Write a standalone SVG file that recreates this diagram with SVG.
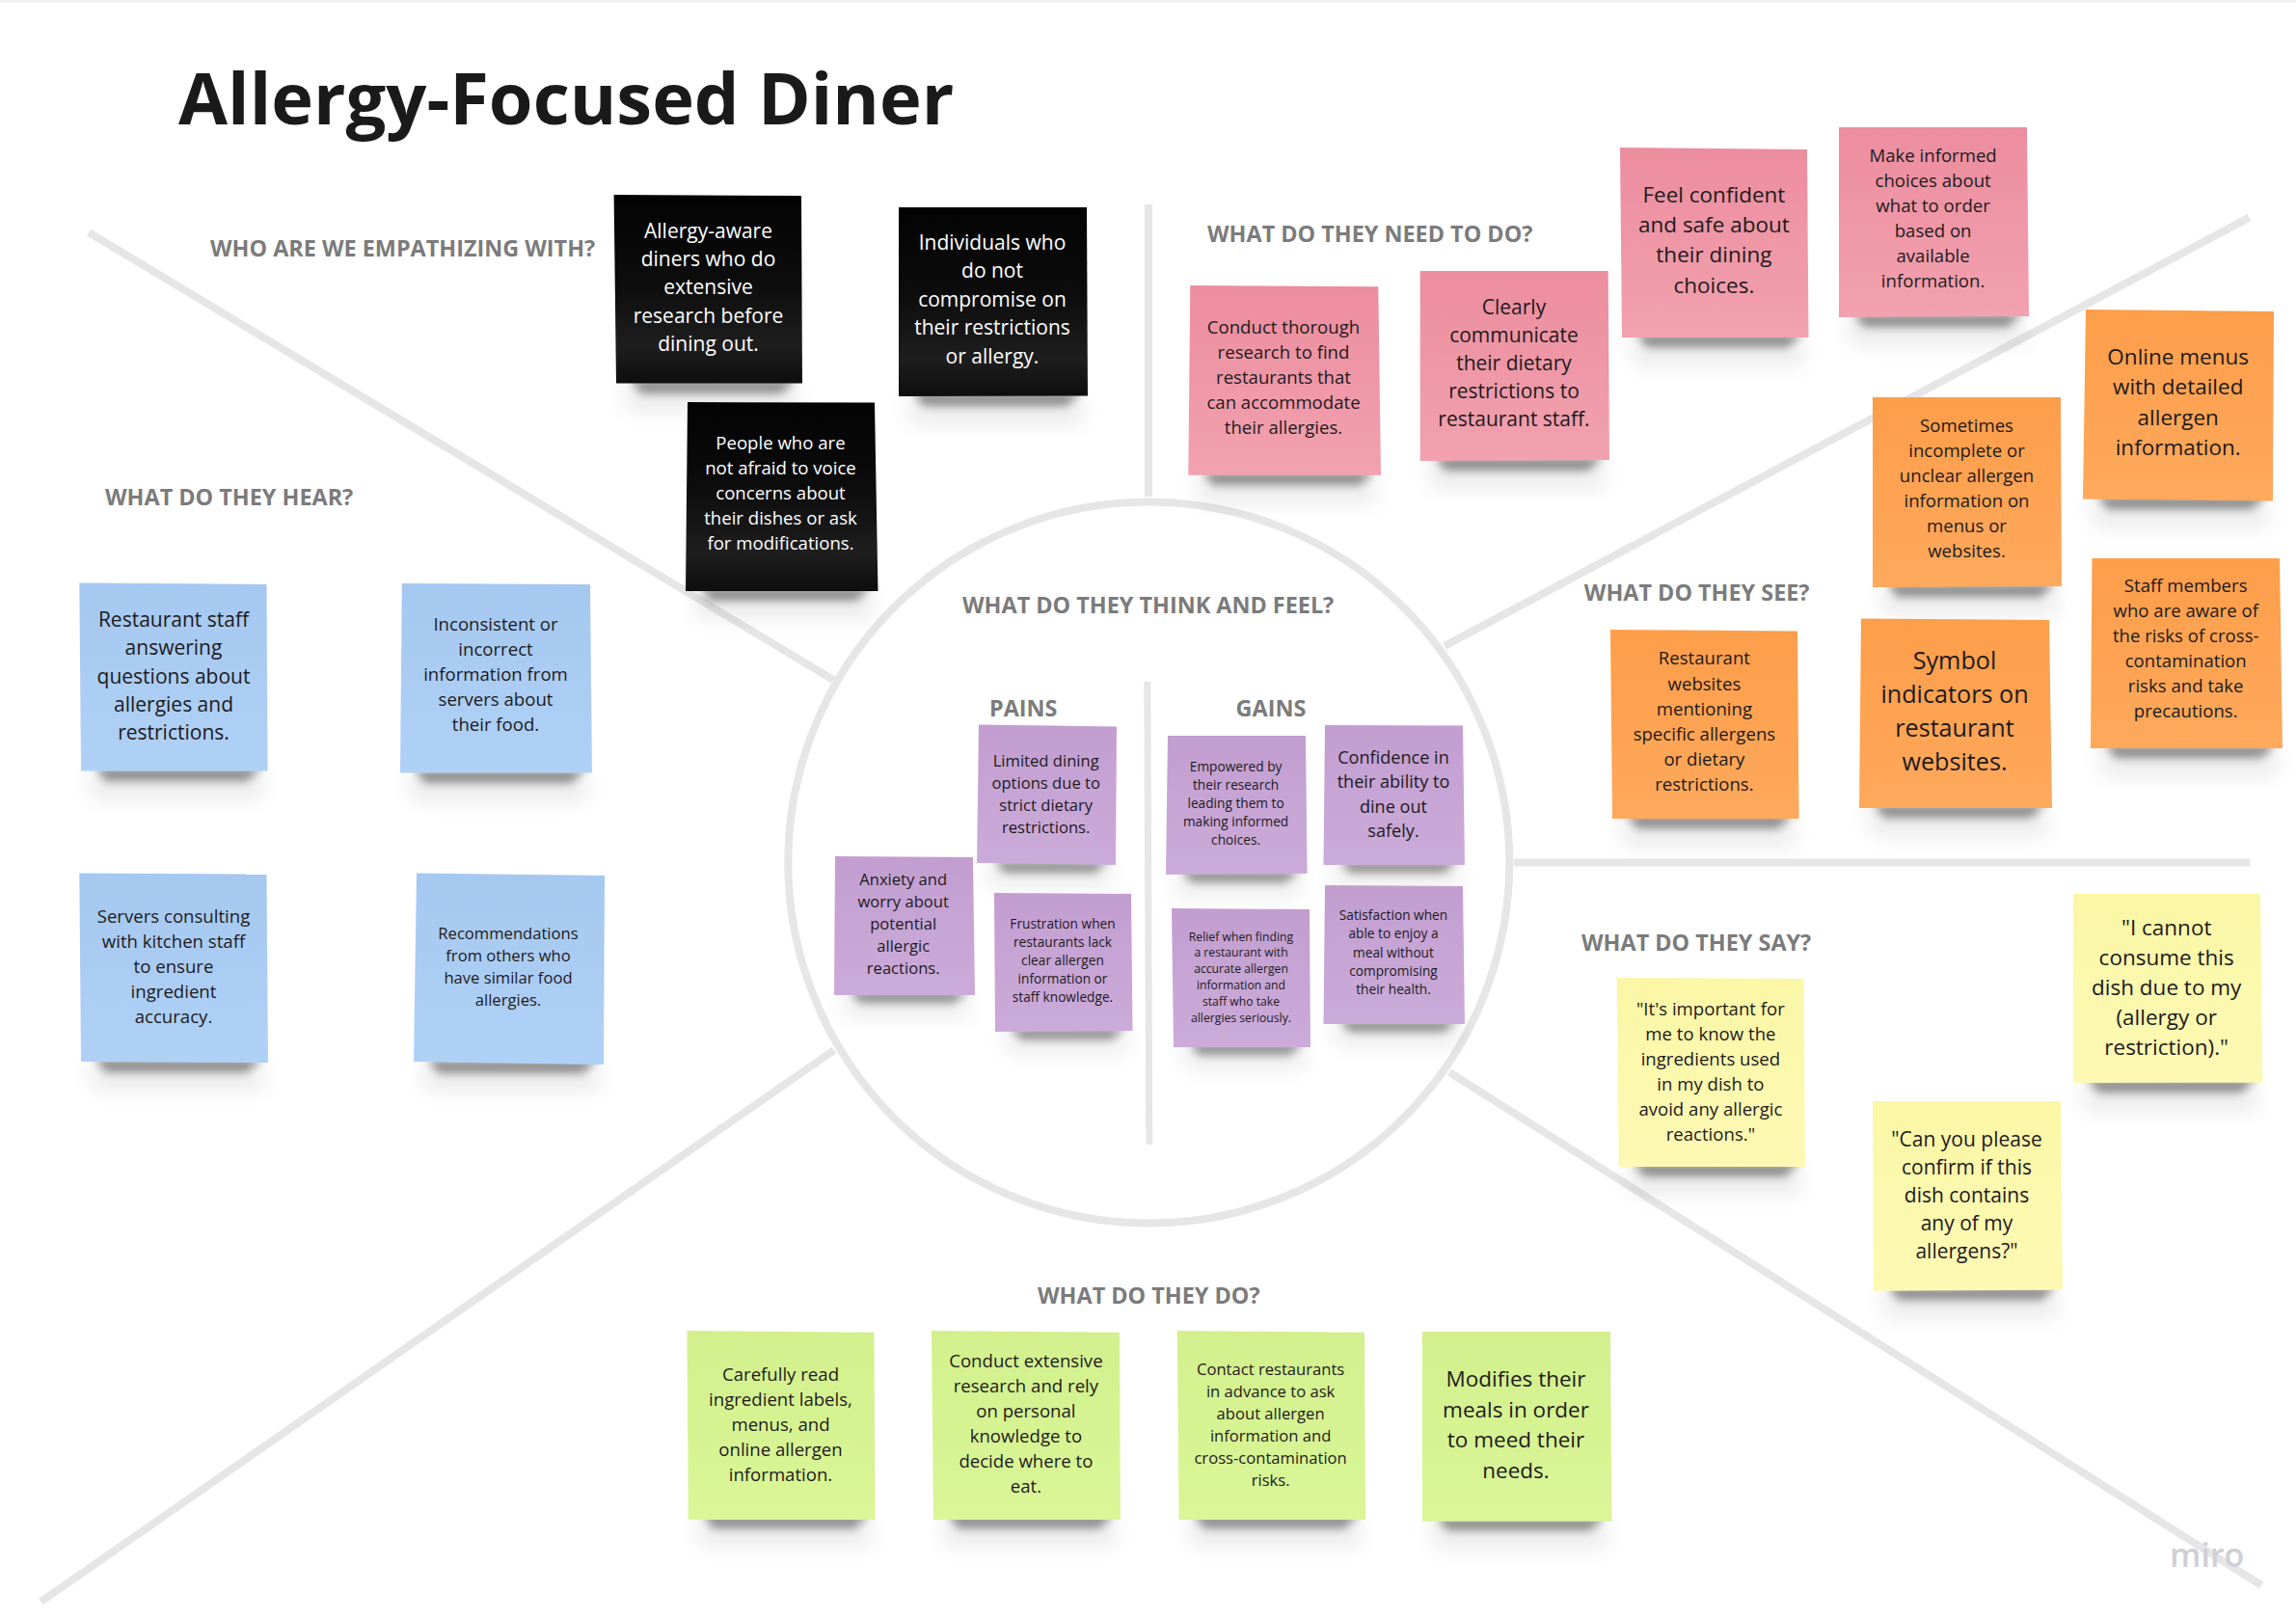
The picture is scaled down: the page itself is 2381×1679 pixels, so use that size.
<svg xmlns="http://www.w3.org/2000/svg" width="2381" height="1679" viewBox="0 0 2381 1679">
<style>
text{font-family:"Open Sans","Noto Sans","Liberation Sans",sans-serif;text-anchor:middle;fill:#1d1a1c}
.h{font-weight:700;font-size:23.4px;fill:#7b7b7b;text-anchor:start}
.title{font-weight:700;font-size:74px;fill:#1a1a1a;text-anchor:start}
.w{fill:#fff}
.s1{fill:#000;opacity:.42;filter:url(#b1)}
.s2{fill:#000;opacity:.07;filter:url(#b2)}
.l{stroke:#e6e6e6;stroke-width:8;fill:none}
.k{fill:url(#gk)}.b{fill:url(#gb)}.p{fill:url(#gp)}.o{fill:url(#go)}.u{fill:url(#gu)}.y{fill:url(#gy)}.g{fill:url(#gg)}
.f12{font-size:12.2px}.f14{font-size:13.7px}.f17{font-size:16.6px}.f187{font-size:18.1px}.f19{font-size:18.6px}.f21{font-size:21px}.f23{font-size:22.5px}.f26{font-size:25.2px}
.miro{font-size:34px;font-weight:600;fill:#cfcfd6;text-anchor:start}
</style>
<defs>
<filter id="b1" x="-20%" y="-200%" width="140%" height="500%"><feGaussianBlur stdDeviation="5"/></filter>
<filter id="b2" x="-20%" y="-100%" width="140%" height="300%"><feGaussianBlur stdDeviation="10"/></filter>
<linearGradient id="gk" x1="0" y1="0" x2="0" y2="1"><stop offset="0" stop-color="#030303"/><stop offset=".45" stop-color="#0c0c0c"/><stop offset=".8" stop-color="#1e1e1e"/><stop offset="1" stop-color="#0e0e0e"/></linearGradient>
<linearGradient id="gb" x1="0" y1="0" x2="0" y2="1"><stop offset="0" stop-color="#a5c8f0"/><stop offset="1" stop-color="#b0d1f6"/></linearGradient>
<linearGradient id="gp" x1="0" y1="0" x2="0" y2="1"><stop offset="0" stop-color="#ec8d9e"/><stop offset="1" stop-color="#f2a1af"/></linearGradient>
<linearGradient id="go" x1="0" y1="0" x2="0" y2="1"><stop offset="0" stop-color="#fd9e4a"/><stop offset="1" stop-color="#fea95c"/></linearGradient>
<linearGradient id="gu" x1="0" y1="0" x2="0" y2="1"><stop offset="0" stop-color="#c29ed0"/><stop offset="1" stop-color="#cbabda"/></linearGradient>
<linearGradient id="gy" x1="0" y1="0" x2="0" y2="1"><stop offset="0" stop-color="#fbf7a6"/><stop offset="1" stop-color="#fdf9b4"/></linearGradient>
<linearGradient id="gg" x1="0" y1="0" x2="0" y2="1"><stop offset="0" stop-color="#d2f08d"/><stop offset="1" stop-color="#daf697"/></linearGradient>
</defs>
<rect width="2381" height="1679" fill="#fff"/>
<rect width="2381" height="2.500" fill="#efefef"/>
<g id="connectors">
<circle class="l" cx="1191.300" cy="894.600" r="374"/>
<path class="l" d="M92 241L864 705"/>
<path class="l" d="M1191 212V515"/>
<path class="l" d="M2332.500 225.600L1498 670"/>
<path class="l" d="M1570 894.400H2333.400"/>
<path class="l" d="M1503 1112L2345 1644"/>
<path class="l" d="M865 1089L42.500 1661"/>
<path class="l" style="stroke-width:7" d="M1189.800 707L1191.800 1187"/>
</g>
<text class="title" x="185" y="128.500">Allergy-Focused Diner</text>
<g id="headings">
<text class="h" x="218" y="266">WHO ARE WE EMPATHIZING WITH?</text>
<text class="h" x="109" y="523.500">WHAT DO THEY HEAR?</text>
<text class="h" x="998" y="635.700">WHAT DO THEY THINK AND FEEL?</text>
<text class="h" x="1026" y="742.500">PAINS</text>
<text class="h" x="1281.600" y="742.500">GAINS</text>
<text class="h" x="1252" y="250.700">WHAT DO THEY NEED TO DO?</text>
<text class="h" x="1642.800" y="623">WHAT DO THEY SEE?</text>
<text class="h" x="1640" y="985.500">WHAT DO THEY SAY?</text>
<text class="h" x="1076" y="1351.500">WHAT DO THEY DO?</text>
</g>

<g id="who-1"><path class="s2" d="M643 398H828V428H651Z"/><path class="s1" d="M653 394H826L810 408H665Z"/><polygon class="k" points="636.600,202 831,203 832,397.500 639,397.500"/>
<text class="f21 w" y="246.500"><tspan x="734.500">Allergy-aware</tspan><tspan x="734.500" dy="29.400">diners who do</tspan><tspan x="734.500" dy="29.400">extensive</tspan><tspan x="734.500" dy="29.400">research before</tspan><tspan x="734.500" dy="29.400">dining out.</tspan></text></g>
<g id="who-2"><path class="s2" d="M936 411H1124V441H944Z"/><path class="s1" d="M946 407H1122L1106 421H958Z"/><polygon class="k" points="932,215 1127,215 1128,410.600 932,411"/>
<text class="f21 w" y="259"><tspan x="1029">Individuals who</tspan><tspan x="1029" dy="29.400">do not</tspan><tspan x="1029" dy="29.400">compromise on</tspan><tspan x="1029" dy="29.400">their restrictions</tspan><tspan x="1029" dy="29.400">or allergy.</tspan></text></g>
<g id="who-3"><path class="s2" d="M715 613H906V643H723Z"/><path class="s1" d="M725 609H904L888 623H737Z"/><polygon class="k" points="713,417 907,417.500 910.500,613 711,613"/>
<text class="f19 w" y="466"><tspan x="809.500">People who are</tspan><tspan x="809.500" dy="26">not afraid to voice</tspan><tspan x="809.500" dy="26">concerns about</tspan><tspan x="809.500" dy="26">their dishes or ask</tspan><tspan x="809.500" dy="26">for modifications.</tspan></text></g>

<g id="hear-1"><path class="s2" d="M88 800H274V830H96Z"/><path class="s1" d="M98 796H272L256 810H110Z"/><polygon class="b" points="82.300,604.600 276.500,606 277.600,799.500 84,799.500"/>
<text class="f21" y="650"><tspan x="180">Restaurant staff</tspan><tspan x="180" dy="29.300">answering</tspan><tspan x="180" dy="29.300">questions about</tspan><tspan x="180" dy="29.300">allergies and</tspan><tspan x="180" dy="29.300">restrictions.</tspan></text></g>
<g id="hear-2"><path class="s2" d="M419 802H610V832H427Z"/><path class="s1" d="M429 798H608L592 812H441Z"/><polygon class="b" points="416.800,605 612,606 614,801.500 415,801.500"/>
<text class="f19" y="654.400"><tspan x="514">Inconsistent or</tspan><tspan x="514" dy="26">incorrect</tspan><tspan x="514" dy="26">information from</tspan><tspan x="514" dy="26">servers about</tspan><tspan x="514" dy="26">their food.</tspan></text></g>
<g id="hear-3"><path class="s2" d="M88 1102H274V1132H96Z"/><path class="s1" d="M98 1098H272L256 1112H110Z"/><polygon class="b" points="82.300,905.500 276.500,906.600 278,1102 84,1101"/>
<text class="f19" y="956.500"><tspan x="180">Servers consulting</tspan><tspan x="180" dy="26">with kitchen staff</tspan><tspan x="180" dy="26">to ensure</tspan><tspan x="180" dy="26">ingredient</tspan><tspan x="180" dy="26">accuracy.</tspan></text></g>
<g id="hear-4"><path class="s2" d="M433 1103H622V1133H441Z"/><path class="s1" d="M443 1099H620L604 1113H455Z"/><polygon class="b" points="432,905.500 627,908 626,1104 429,1101"/>
<text class="f17" y="973.500"><tspan x="527">Recommendations</tspan><tspan x="527" dy="23">from others who</tspan><tspan x="527" dy="23">have similar food</tspan><tspan x="527" dy="23">allergies.</tspan></text></g>

<g id="need-1"><path class="s2" d="M1236 493H1428V523H1244Z"/><path class="s1" d="M1246 489H1426L1410 503H1258Z"/><polygon class="p" points="1234.300,296 1429.300,297.300 1432,492.700 1232.300,492.700"/>
<text class="f19" y="346"><tspan x="1331">Conduct thorough</tspan><tspan x="1331" dy="26">research to find</tspan><tspan x="1331" dy="26">restaurants that</tspan><tspan x="1331" dy="26">can accommodate</tspan><tspan x="1331" dy="26">their allergies.</tspan></text></g>
<g id="need-2"><path class="s2" d="M1477 478H1665V508H1485Z"/><path class="s1" d="M1487 474H1663L1647 488H1499Z"/><polygon class="p" points="1472.700,281 1667.700,281 1669,477 1472.700,478"/>
<text class="f21" y="325.500"><tspan x="1570">Clearly</tspan><tspan x="1570" dy="29">communicate</tspan><tspan x="1570" dy="29">their dietary</tspan><tspan x="1570" dy="29">restrictions to</tspan><tspan x="1570" dy="29">restaurant staff.</tspan></text></g>
<g id="need-3"><path class="s2" d="M1686 350H1872V380H1694Z"/><path class="s1" d="M1696 346H1870L1854 360H1708Z"/><polygon class="p" points="1680,153 1874,155 1875.500,350 1682,350"/>
<text class="f23" y="209.600"><tspan x="1777.400">Feel confident</tspan><tspan x="1777.400" dy="31.300">and safe about</tspan><tspan x="1777.400" dy="31.300">their dining</tspan><tspan x="1777.400" dy="31.300">choices.</tspan></text></g>
<g id="need-4"><path class="s2" d="M1911 329H2100V359H1919Z"/><path class="s1" d="M1921 325H2098L2082 339H1933Z"/><polygon class="p" points="1907,132 2102,132 2104,328 1907,329"/>
<text class="f19" y="168.300"><tspan x="2004.600">Make informed</tspan><tspan x="2004.600" dy="26">choices about</tspan><tspan x="2004.600" dy="26">what to order</tspan><tspan x="2004.600" dy="26">based on</tspan><tspan x="2004.600" dy="26">available</tspan><tspan x="2004.600" dy="26">information.</tspan></text></g>

<g id="see-1"><path class="s2" d="M2164 518H2353V548H2172Z"/><path class="s1" d="M2174 514H2351L2335 528H2186Z"/><polygon class="o" points="2163,321 2358,323 2357,519.500 2160,517.500"/>
<text class="f23" y="378"><tspan x="2258.700">Online menus</tspan><tspan x="2258.700" dy="31.300">with detailed</tspan><tspan x="2258.700" dy="31.300">allergen</tspan><tspan x="2258.700" dy="31.300">information.</tspan></text></g>
<g id="see-2"><path class="s2" d="M1946 609H2134V639H1954Z"/><path class="s1" d="M1956 605H2132L2116 619H1968Z"/><polygon class="o" points="1942,412 2137,412 2138,608 1942,609"/>
<text class="f19" y="447.800"><tspan x="2039.500">Sometimes</tspan><tspan x="2039.500" dy="26">incomplete or</tspan><tspan x="2039.500" dy="26">unclear allergen</tspan><tspan x="2039.500" dy="26">information on</tspan><tspan x="2039.500" dy="26">menus or</tspan><tspan x="2039.500" dy="26">websites.</tspan></text></g>
<g id="see-3"><path class="s2" d="M2172 776H2363V806H2180Z"/><path class="s1" d="M2182 772H2361L2345 786H2194Z"/><polygon class="o" points="2169.500,579 2364,579 2367,776 2168,776"/>
<text class="f19" y="614.200"><tspan x="2266.700">Staff members</tspan><tspan x="2266.700" dy="26">who are aware of</tspan><tspan x="2266.700" dy="26">the risks of cross-</tspan><tspan x="2266.700" dy="26">contamination</tspan><tspan x="2266.700" dy="26">risks and take</tspan><tspan x="2266.700" dy="26">precautions.</tspan></text></g>
<g id="see-4"><path class="s2" d="M1932 838H2124V868H1940Z"/><path class="s1" d="M1942 834H2122L2106 848H1954Z"/><polygon class="o" points="1930,641.600 2125,643 2128,838 1928,838"/>
<text class="f26" y="694"><tspan x="2027">Symbol</tspan><tspan x="2027" dy="35">indicators on</tspan><tspan x="2027" dy="35">restaurant</tspan><tspan x="2027" dy="35">websites.</tspan></text></g>
<g id="see-5"><path class="s2" d="M1676 849H1862V879H1684Z"/><path class="s1" d="M1686 845H1860L1844 859H1698Z"/><polygon class="o" points="1670,653 1864,654.500 1865.600,849 1672,849"/>
<text class="f19" y="689.400"><tspan x="1767.400">Restaurant</tspan><tspan x="1767.400" dy="26.200">websites</tspan><tspan x="1767.400" dy="26.200">mentioning</tspan><tspan x="1767.400" dy="26.200">specific allergens</tspan><tspan x="1767.400" dy="26.200">or dietary</tspan><tspan x="1767.400" dy="26.200">restrictions.</tspan></text></g>

<g id="pains-1"><path class="s2" d="M1017 897H1153V920H1025Z"/><path class="s1" d="M1030 893H1151L1135 905H1042Z"/><polygon class="u" points="1015,751.500 1158,753.500 1157,897 1013,895"/>
<text class="f17" y="795"><tspan x="1084.700">Limited dining</tspan><tspan x="1084.700" dy="23">options due to</tspan><tspan x="1084.700" dy="23">strict dietary</tspan><tspan x="1084.700" dy="23">restrictions.</tspan></text></g>
<g id="pains-2"><path class="s2" d="M869 1032H1007V1055H877Z"/><path class="s1" d="M880 1028H1005L989 1040H892Z"/><polygon class="u" points="866,888 1009,889 1011,1032 865,1032"/>
<text class="f17" y="918.400"><tspan x="936.700">Anxiety and</tspan><tspan x="936.700" dy="23">worry about</tspan><tspan x="936.700" dy="23">potential</tspan><tspan x="936.700" dy="23">allergic</tspan><tspan x="936.700" dy="23">reactions.</tspan></text></g>
<g id="pains-3"><path class="s2" d="M1036 1070H1170V1093H1044Z"/><path class="s1" d="M1047 1066H1168L1152 1078H1059Z"/><polygon class="u" points="1031,926 1173,927 1174.500,1069 1032,1070"/>
<text class="f14" y="963"><tspan x="1102">Frustration when</tspan><tspan x="1102" dy="19">restaurants lack</tspan><tspan x="1102" dy="19">clear allergen</tspan><tspan x="1102" dy="19">information or</tspan><tspan x="1102" dy="19">staff knowledge.</tspan></text></g>
<g id="gains-1"><path class="s2" d="M1213 907H1351V930H1221Z"/><path class="s1" d="M1224 903H1349L1333 915H1236Z"/><polygon class="u" points="1211,763 1354,763 1355.600,906 1209,907"/>
<text class="f14" y="799.500"><tspan x="1281.600">Empowered by</tspan><tspan x="1281.600" dy="19">their research</tspan><tspan x="1281.600" dy="19">leading them to</tspan><tspan x="1281.600" dy="19">making informed</tspan><tspan x="1281.600" dy="19">choices.</tspan></text></g>
<g id="gains-2"><path class="s2" d="M1377 897H1515V920H1385Z"/><path class="s1" d="M1388 893H1513L1497 905H1400Z"/><polygon class="u" points="1374,752 1517,752.500 1519,897 1372.500,897"/>
<text class="f187" y="792"><tspan x="1445">Confidence in</tspan><tspan x="1445" dy="25.400">their ability to</tspan><tspan x="1445" dy="25.400">dine out</tspan><tspan x="1445" dy="25.400">safely.</tspan></text></g>
<g id="gains-3"><path class="s2" d="M1221 1086H1355V1109H1229Z"/><path class="s1" d="M1232 1082H1353L1337 1094H1244Z"/><polygon class="u" points="1215,942 1358,943 1359,1086 1217,1086"/>
<text class="f12" y="975.500"><tspan x="1287">Relief when finding</tspan><tspan x="1287" dy="16.800">a restaurant with</tspan><tspan x="1287" dy="16.800">accurate allergen</tspan><tspan x="1287" dy="16.800">information and</tspan><tspan x="1287" dy="16.800">staff who take</tspan><tspan x="1287" dy="16.800">allergies seriously.</tspan></text></g>
<g id="gains-4"><path class="s2" d="M1377 1062H1515V1085H1385Z"/><path class="s1" d="M1388 1058H1513L1497 1070H1400Z"/><polygon class="u" points="1374,918 1517,919 1519,1062 1372.500,1062"/>
<text class="f14" y="954"><tspan x="1445">Satisfaction when</tspan><tspan x="1445" dy="19.300">able to enjoy a</tspan><tspan x="1445" dy="19.300">meal without</tspan><tspan x="1445" dy="19.300">compromising</tspan><tspan x="1445" dy="19.300">their health.</tspan></text></g>

<g id="say-1"><path class="s2" d="M2154 1123H2342V1153H2162Z"/><path class="s1" d="M2164 1119H2340L2324 1133H2176Z"/><polygon class="y" points="2150,927 2344,927 2346.400,1122.700 2150,1123"/>
<text class="f23" y="969.500"><tspan x="2246.700">"I cannot</tspan><tspan x="2246.700" dy="31.200">consume this</tspan><tspan x="2246.700" dy="31.200">dish due to my</tspan><tspan x="2246.700" dy="31.200">(allergy or</tspan><tspan x="2246.700" dy="31.200">restriction)."</tspan></text></g>
<g id="say-2"><path class="s2" d="M1683 1210H1869V1240H1691Z"/><path class="s1" d="M1693 1206H1867L1851 1220H1705Z"/><polygon class="y" points="1676.700,1014 1870.500,1015 1872,1210 1678.700,1210"/>
<text class="f19" y="1052.500"><tspan x="1773.900">"It's important for</tspan><tspan x="1773.900" dy="26">me to know the</tspan><tspan x="1773.900" dy="26">ingredients used</tspan><tspan x="1773.900" dy="26">in my dish to</tspan><tspan x="1773.900" dy="26">avoid any allergic</tspan><tspan x="1773.900" dy="26">reactions."</tspan></text></g>
<g id="say-3"><path class="s2" d="M1947 1338H2135V1368H1955Z"/><path class="s1" d="M1957 1334H2133L2117 1348H1969Z"/><polygon class="y" points="1942,1142 2137,1142 2139,1337.700 1943,1338.700"/>
<text class="f21" y="1188.500"><tspan x="2039.500">"Can you please</tspan><tspan x="2039.500" dy="29">confirm if this</tspan><tspan x="2039.500" dy="29">dish contains</tspan><tspan x="2039.500" dy="29">any of my</tspan><tspan x="2039.500" dy="29">allergens?"</tspan></text></g>

<g id="do-1"><path class="s2" d="M718 1575H904V1605H726Z"/><path class="s1" d="M728 1571H902L886 1585H740Z"/><polygon class="g" points="712.500,1380 906.400,1381.700 907.700,1576 713.800,1576"/>
<text class="f19" y="1431.500"><tspan x="809.500">Carefully read</tspan><tspan x="809.500" dy="26">ingredient labels,</tspan><tspan x="809.500" dy="26">menus, and</tspan><tspan x="809.500" dy="26">online allergen</tspan><tspan x="809.500" dy="26">information.</tspan></text></g>
<g id="do-2"><path class="s2" d="M972 1575H1158V1605H980Z"/><path class="s1" d="M982 1571H1156L1140 1585H994Z"/><polygon class="g" points="966,1380 1161,1381.700 1162,1576 968,1576"/>
<text class="f19" y="1418.200"><tspan x="1063.900">Conduct extensive</tspan><tspan x="1063.900" dy="26">research and rely</tspan><tspan x="1063.900" dy="26">on personal</tspan><tspan x="1063.900" dy="26">knowledge to</tspan><tspan x="1063.900" dy="26">decide where to</tspan><tspan x="1063.900" dy="26">eat.</tspan></text></g>
<g id="do-3"><path class="s2" d="M1227 1575H1412V1605H1235Z"/><path class="s1" d="M1237 1571H1410L1394 1585H1249Z"/><polygon class="g" points="1220.700,1380 1415,1381.700 1416,1576 1222.600,1576"/>
<text class="f17" y="1425.500"><tspan x="1317.600">Contact restaurants</tspan><tspan x="1317.600" dy="23">in advance to ask</tspan><tspan x="1317.600" dy="23">about allergen</tspan><tspan x="1317.600" dy="23">information and</tspan><tspan x="1317.600" dy="23">cross-contamination</tspan><tspan x="1317.600" dy="23">risks.</tspan></text></g>
<g id="do-4"><path class="s2" d="M1479 1577H1667V1607H1487Z"/><path class="s1" d="M1489 1573H1665L1649 1587H1501Z"/><polygon class="g" points="1475,1381 1670,1381 1671.500,1577.700 1475,1577.700"/>
<text class="f23" y="1438.200"><tspan x="1572">Modifies their</tspan><tspan x="1572" dy="31.600">meals in order</tspan><tspan x="1572" dy="31.600">to meed their</tspan><tspan x="1572" dy="31.600">needs.</tspan></text></g>
<text class="miro" x="2250" y="1625">miro</text>
</svg>
